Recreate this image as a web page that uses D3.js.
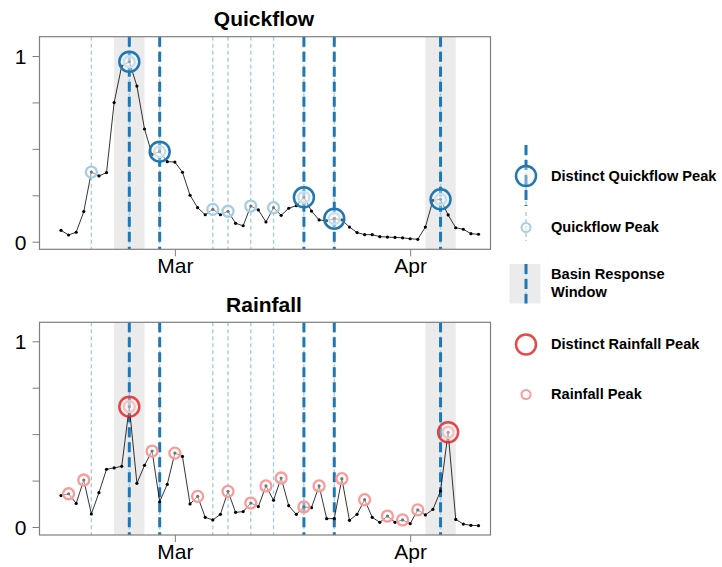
<!DOCTYPE html>
<html>
<head>
<meta charset="utf-8">
<script src="https://cdn.jsdelivr.net/npm/d3@7"></script>
<style>
  html, body { margin: 0; padding: 0; background: #fff; }
  svg { display: block; font-family: "Liberation Sans", Arial, Helvetica, sans-serif; }
</style>
</head>
<body>
<svg id="chart" width="722" height="567"></svg>
<script>
// Daily series, 14 Feb – 10 Apr (normalised 0–1)
const startDate = "2019-02-14";
const quickflow = [0.061,0.036,0.051,0.162,0.375,0.354,0.372,0.749,0.946,0.969,
  0.838,0.607,0.470,0.485,0.431,0.429,0.374,0.250,0.183,0.145,
  0.174,0.145,0.164,0.099,0.086,0.192,0.171,0.106,0.183,0.142,
  0.180,0.194,0.239,0.165,0.117,0.113,0.124,0.117,0.079,0.049,
  0.038,0.038,0.027,0.025,0.023,0.021,0.016,0.013,0.079,0.223,
  0.228,0.144,0.075,0.067,0.043,0.040];
const rainfall = [0.169,0.179,0.127,0.253,0.070,0.185,0.311,0.318,0.327,0.648,
  0.235,0.332,0.409,0.136,0.230,0.398,0.380,0.124,0.165,0.052,
  0.038,0.068,0.192,0.079,0.083,0.129,0.110,0.221,0.144,0.264,
  0.115,0.068,0.108,0.104,0.221,0.045,0.045,0.260,0.036,0.068,
  0.147,0.052,0.025,0.059,0.025,0.038,0.018,0.092,0.065,0.095,
  0.194,0.510,0.041,0.016,0.009,0.007];

const quickflowPeaks = ["2019-02-18","2019-02-23","2019-02-27","2019-03-06","2019-03-08",
  "2019-03-11","2019-03-14","2019-03-18","2019-03-22","2019-04-05"];
const distinctQuickflowPeaks = ["2019-02-23","2019-02-27","2019-03-18","2019-03-22","2019-04-05"];
const responseWindows = [["2019-02-21","2019-02-25"], ["2019-04-03","2019-04-07"]];
const rainfallPeaks = ["2019-02-15","2019-02-17","2019-02-23","2019-02-26","2019-03-01","2019-03-04",
  "2019-03-08","2019-03-11","2019-03-13","2019-03-15","2019-03-18","2019-03-20","2019-03-23",
  "2019-03-26","2019-03-29","2019-03-31","2019-04-02","2019-04-06"];
const distinctRainfallPeaks = ["2019-02-23","2019-04-06"];
const monthTicks = ["2019-03-01","2019-04-01"];
const yTicks = [0, 0.25, 0.5, 0.75, 1];
const yTickLabels = ["0", "", "", "", "1"];

const legendItems = ["Distinct Quickflow Peak", "Quickflow Peak", "Basin Response Window",
  "Distinct Rainfall Peak", "Rainfall Peak"];

const parse = d3.utcParse("%Y-%m-%d");
const dates = quickflow.map((_, i) => d3.utcDay.offset(parse(startDate), i));

const C = {
  dark: "#1f78b4", light: "#a6cee3", red: "#e31a1c", pink: "#fb9a99",
  window: "#ebebeb", frame: "#7f7f7f"
};

const svg = d3.select("#chart");
const x = d3.scaleUtc().domain([dates[0], dates[dates.length - 1]]).range([61, 478.5]);
const box = { left: 39.5, right: 490.5 };

function panel(cfg) {
  const g = svg.append("g");
  const y = d3.scaleLinear().domain([0, 1]).range([cfg.y0, cfg.y1]);
  const boxTop = cfg.top, boxBottom = cfg.bottom;

  // basin response windows
  g.selectAll("rect.win").data(responseWindows).join("rect")
    .attr("x", d => x(parse(d[0])))
    .attr("width", d => x(parse(d[1])) - x(parse(d[0])))
    .attr("y", boxTop).attr("height", boxBottom - boxTop)
    .attr("fill", C.window);

  // peak lines
  g.selectAll("line.qp").data(quickflowPeaks).join("line")
    .attr("x1", d => x(parse(d))).attr("x2", d => x(parse(d)))
    .attr("y1", boxTop).attr("y2", boxBottom)
    .attr("stroke", C.light).attr("stroke-width", 1.4).attr("stroke-dasharray", "4,3");
  g.selectAll("line.dqp").data(distinctQuickflowPeaks).join("line")
    .attr("x1", d => x(parse(d))).attr("x2", d => x(parse(d)))
    .attr("y1", boxTop).attr("y2", boxBottom)
    .attr("stroke", C.dark).attr("stroke-width", 3).attr("stroke-dasharray", "10,5");

  // series
  const line = d3.line().x((d, i) => x(dates[i])).y(d => y(d));
  g.append("path").datum(cfg.values).attr("d", line)
    .attr("fill", "none").attr("stroke", "#000").attr("stroke-width", 0.8);
  g.selectAll("circle.pt").data(cfg.values).join("circle")
    .attr("cx", (d, i) => x(dates[i])).attr("cy", d => y(d))
    .attr("r", 1.6).attr("fill", "#000");

  const valueAt = s => cfg.values[d3.utcDay.count(dates[0], parse(s))];

  // peak markers
  g.selectAll("circle.small").data(cfg.peaks).join("circle")
    .attr("cx", d => x(parse(d))).attr("cy", d => y(valueAt(d)))
    .attr("r", 5.5).attr("fill", "#fff").attr("fill-opacity", 0.45)
    .attr("stroke", cfg.smallColor).attr("stroke-width", 2.3);
  g.selectAll("circle.big").data(cfg.distinct).join("circle")
    .attr("cx", d => x(parse(d))).attr("cy", d => y(valueAt(d)))
    .attr("r", 10).attr("fill", "#fff").attr("fill-opacity", 0.35)
    .attr("stroke", cfg.bigColor).attr("stroke-opacity", cfg.bigOpacity)
    .attr("stroke-width", 2.5);

  // frame
  g.append("rect").attr("x", box.left).attr("y", boxTop)
    .attr("width", box.right - box.left).attr("height", boxBottom - boxTop)
    .attr("fill", "none").attr("stroke", C.frame).attr("stroke-width", 1.2);

  // y axis
  const yAxis = d3.axisLeft(y).tickValues(yTicks).tickSize(7).tickPadding(6)
    .tickFormat((d, i) => yTickLabels[i]);
  const ya = g.append("g").attr("transform", `translate(${box.left},0)`).call(yAxis);
  ya.select(".domain").remove();
  ya.selectAll(".tick line").attr("stroke", C.frame);
  ya.selectAll(".tick text").attr("font-size", 21).attr("fill", "#000")
    .attr("font-family", "Liberation Sans, Arial, sans-serif").attr("dy", "0.36em");

  // x axis
  const xAxis = d3.axisBottom(x).tickValues(monthTicks.map(parse)).tickSize(7).tickPadding(2)
    .tickFormat(d3.utcFormat("%b"));
  const xa = g.append("g").attr("transform", `translate(0,${boxBottom})`).call(xAxis);
  xa.select(".domain").remove();
  xa.selectAll(".tick line").attr("stroke", C.frame);
  xa.selectAll(".tick text").attr("font-size", 21).attr("fill", "#000")
    .attr("font-family", "Liberation Sans, Arial, sans-serif");

  // title
  g.append("text").attr("x", 264).attr("y", cfg.titleY).attr("text-anchor", "middle")
    .attr("font-size", 21).attr("font-weight", "bold").text(cfg.title);
}

panel({ title: "Quickflow", titleY: 26, top: 36.7, bottom: 249.3, y0: 241.7, y1: 56,
  values: quickflow, peaks: quickflowPeaks, distinct: distinctQuickflowPeaks,
  smallColor: C.light, bigColor: C.dark, bigOpacity: 1 });
panel({ title: "Rainfall", titleY: 312, top: 322.3, bottom: 535, y0: 527, y1: 341.3,
  values: rainfall, peaks: rainfallPeaks, distinct: distinctRainfallPeaks,
  smallColor: C.pink, bigColor: C.red, bigOpacity: 0.8 });

// legend
const lg = svg.append("g");
const lx = 526, tx = 551;
const txt = (s, yy) => lg.append("text").attr("x", tx).attr("y", yy)
  .attr("font-size", 14.6).attr("font-weight", "bold").text(s);

// distinct quickflow peak
lg.append("line").attr("x1", lx).attr("x2", lx).attr("y1", 145).attr("y2", 206)
  .attr("stroke", C.light).attr("stroke-width", 1.4).attr("stroke-dasharray", "4,3");
lg.append("line").attr("x1", lx).attr("x2", lx).attr("y1", 145).attr("y2", 206)
  .attr("stroke", C.dark).attr("stroke-width", 3).attr("stroke-dasharray", "10,5");
lg.append("circle").attr("cx", lx).attr("cy", 176).attr("r", 10)
  .attr("fill", "#fff").attr("fill-opacity", 0.35).attr("stroke", C.dark).attr("stroke-width", 2.5);
txt(legendItems[0], 181);

// quickflow peak
lg.append("line").attr("x1", lx).attr("x2", lx).attr("y1", 212).attr("y2", 241)
  .attr("stroke", C.light).attr("stroke-width", 1.4).attr("stroke-dasharray", "4,3");
lg.append("circle").attr("cx", lx).attr("cy", 227.5).attr("r", 4.5)
  .attr("fill", "#fff").attr("fill-opacity", 0.45).attr("stroke", C.light).attr("stroke-width", 2);
txt(legendItems[1], 232);

// basin response window
lg.append("rect").attr("x", 509.5).attr("y", 264).attr("width", 31).attr("height", 39.5)
  .attr("fill", C.window);
lg.append("line").attr("x1", lx).attr("x2", lx).attr("y1", 264).attr("y2", 303.5)
  .attr("stroke", C.light).attr("stroke-width", 1.4).attr("stroke-dasharray", "4,3");
lg.append("line").attr("x1", lx).attr("x2", lx).attr("y1", 264).attr("y2", 303.5)
  .attr("stroke", C.dark).attr("stroke-width", 3).attr("stroke-dasharray", "10,5");
const w = legendItems[2].split(" ");
txt(w.slice(0, 2).join(" "), 279);
txt(w.slice(2).join(" "), 297);

// distinct rainfall peak
lg.append("circle").attr("cx", lx).attr("cy", 344.5).attr("r", 10)
  .attr("fill", "none").attr("stroke", C.red).attr("stroke-opacity", 0.8).attr("stroke-width", 2.5);
txt(legendItems[3], 349);

// rainfall peak
lg.append("circle").attr("cx", lx).attr("cy", 394.5).attr("r", 4.5)
  .attr("fill", "none").attr("stroke", C.pink).attr("stroke-width", 2);
txt(legendItems[4], 399);
</script>
</body>
</html>
